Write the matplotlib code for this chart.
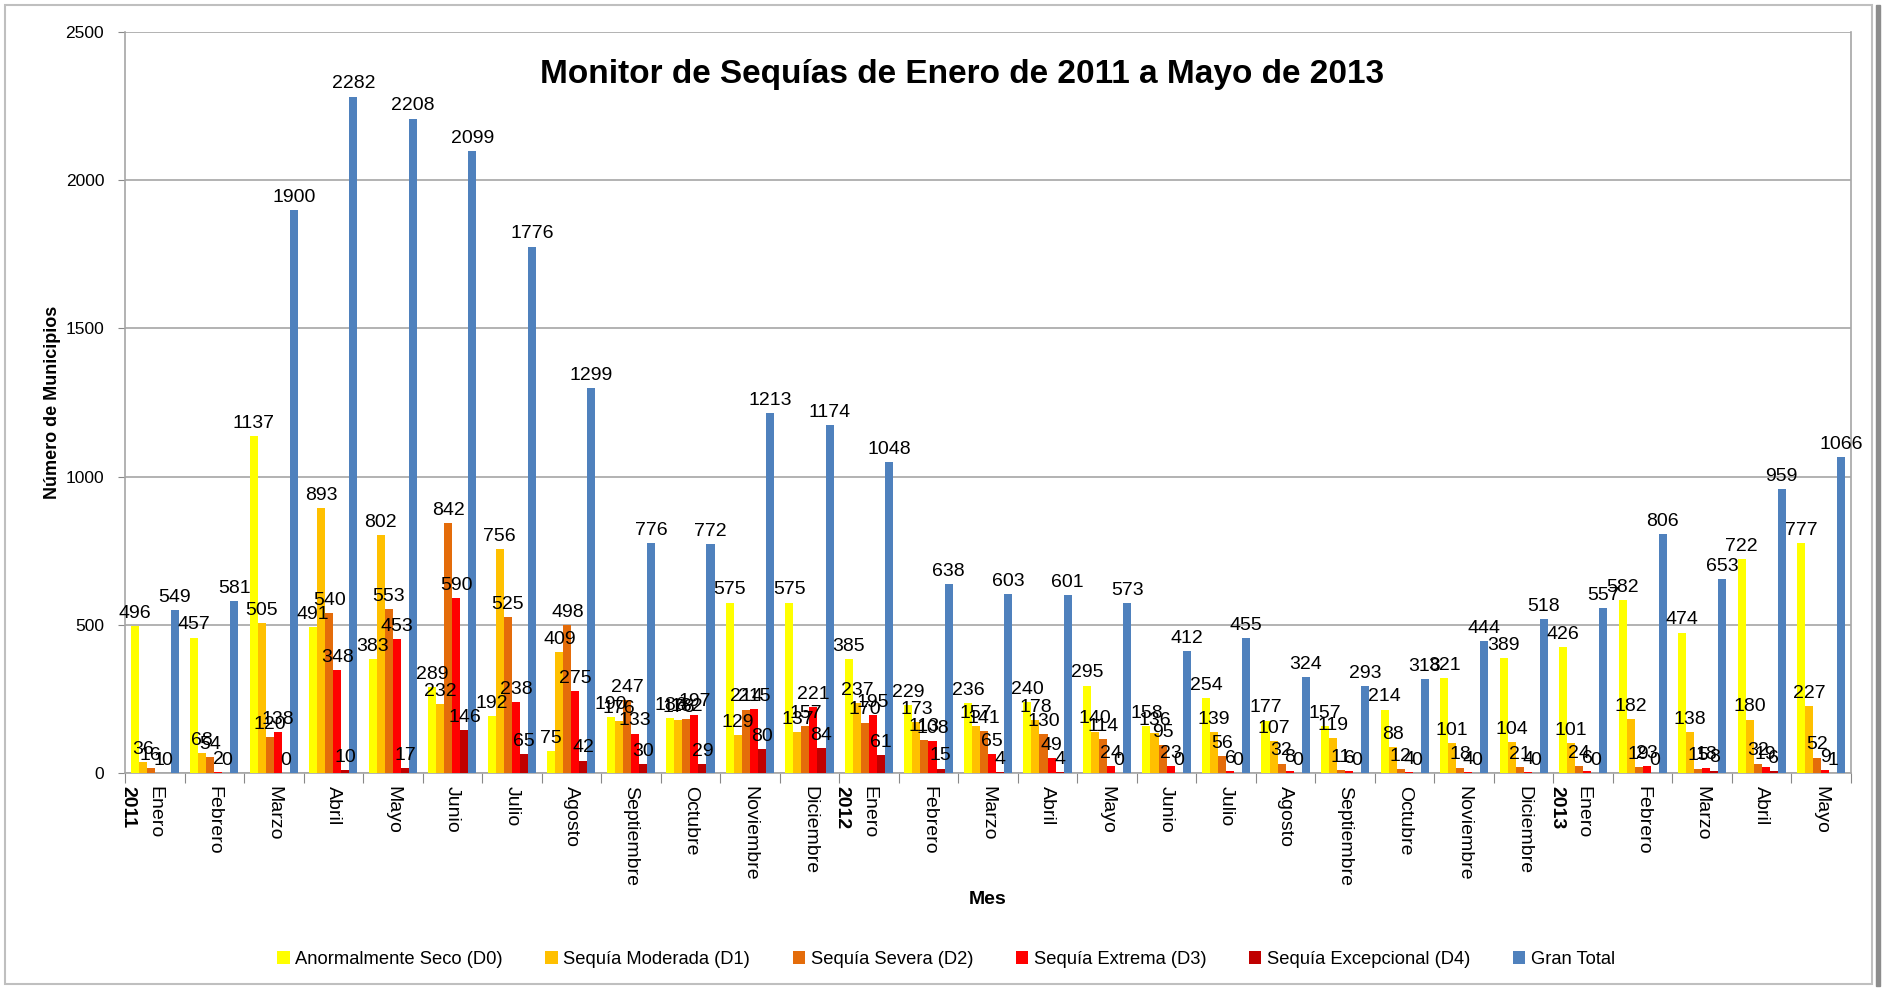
import matplotlib

matplotlib.use("Agg")
import matplotlib.pyplot as plt
import numpy as np
from matplotlib.patches import Rectangle

plt.rcParams["font.family"] = ["Liberation Sans Narrow", "Liberation Sans", "DejaVu Sans"]

# ---------------------------------------------------------------------------
# Data
# ---------------------------------------------------------------------------
MONTHS = [
    "Enero", "Febrero", "Marzo", "Abril", "Mayo", "Junio", "Julio", "Agosto",
    "Septiembre", "Octubre", "Noviembre", "Diciembre",
    "Enero", "Febrero", "Marzo", "Abril", "Mayo", "Junio", "Julio", "Agosto",
    "Septiembre", "Octubre", "Noviembre", "Diciembre",
    "Enero", "Febrero", "Marzo", "Abril", "Mayo",
]
YEAR_MARKS = {0: "2011", 12: "2012", 24: "2013"}

d0 = [496, 457, 1137, 491, 383, 289, 192, 75, 190, 186, 575, 575,
      385, 229, 236, 240, 295, 158, 254, 177, 157, 214, 321, 389,
      426, 582, 474, 722, 777]
d1 = [36, 68, 505, 893, 802, 232, 756, 409, 176, 178, 129, 137,
      237, 173, 157, 178, 140, 136, 139, 107, 119, 88, 101, 104,
      101, 182, 138, 180, 227]
d2 = [16, 54, 120, 540, 553, 842, 525, 498, 247, 182, 214, 157,
      170, 113, 141, 130, 114, 95, 56, 32, 11, 12, 18, 21,
      24, 19, 15, 32, 52]
d3 = [1, 2, 138, 348, 453, 590, 238, 275, 133, 197, 215, 221,
      195, 108, 65, 49, 24, 23, 6, 8, 6, 4, 4, 4,
      6, 23, 18, 19, 9]
d4 = [0, 0, 0, 10, 17, 146, 65, 42, 30, 29, 80, 84,
      61, 15, 4, 4, 0, 0, 0, 0, 0, 0, 0, 0,
      0, 0, 8, 6, 1]
total = [549, 581, 1900, 2282, 2208, 2099, 1776, 1299, 776, 772, 1213, 1174,
         1048, 638, 603, 601, 573, 412, 455, 324, 293, 318, 444, 518,
         557, 806, 653, 959, 1066]

SERIES = [
    ("Anormalmente Seco (D0)", d0, "#FFFF00"),
    ("Sequía Moderada (D1)", d1, "#FFC000"),
    ("Sequía Severa (D2)", d2, "#E46C0A"),
    ("Sequía Extrema (D3)", d3, "#FF0000"),
    ("Sequía Excepcional (D4)", d4, "#C00000"),
    ("Gran Total", total, "#4F81BD"),
]

W, H = 1885, 989
fig = plt.figure(figsize=(W / 100, H / 100), dpi=100)
ax = fig.add_axes([125 / W, 1 - 773 / H, (1851 - 125) / W, (773 - 32) / H])

x = np.arange(len(MONTHS))
bw = 0.135
for k, (name, vals, color) in enumerate(SERIES):
    bars = ax.bar(x + (k - 2.5) * bw, vals, width=bw, color=color, label=name,
                  zorder=3)
    ax.bar_label(bars, padding=3, fontsize=14, color="black", zorder=4)

ax.set_xlim(-0.5, len(MONTHS) - 0.5)
ax.set_ylim(0, 2500)
ax.set_yticks(np.arange(0, 2501, 500))
ax.tick_params(axis="y", labelsize=12.5, length=5, color="#888888", pad=10)
ax.yaxis.grid(True, color="#A6A6A6", linewidth=1.2, zorder=0)
ax.set_axisbelow(True)

# category boundaries as ticks, labels placed by hand
ax.set_xticks(np.arange(-0.5, len(MONTHS), 1.0))
ax.set_xticklabels([])
ax.tick_params(axis="x", length=7, color="#888888")
for i, m in enumerate(MONTHS):
    ax.text(i, -45, m, rotation=-90, ha="center", va="top", fontsize=14)
for i, yr in YEAR_MARKS.items():
    ax.text(i - 0.45, -45, yr, rotation=-90, ha="center", va="top",
            fontsize=14, fontweight="bold")

for side in ("left", "right", "bottom"):
    ax.spines[side].set_color("#A6A6A6")
    ax.spines[side].set_linewidth(1.2)
ax.spines["top"].set_visible(False)

ax.set_ylabel("Número de Municipios", fontsize=13, fontweight="bold")
ax.yaxis.set_label_coords(-0.037, 0.5)

fig.text(962 / W, 1 - 75 / H, "Monitor de Sequías de Enero de 2011 a Mayo de 2013",
         ha="center", va="center", fontsize=24, fontweight="bold")
fig.text(988 / W, 1 - 899 / H, "Mes", ha="center", va="center",
         fontsize=14, fontweight="bold")

fig.legend(loc="center", bbox_to_anchor=(946 / W, 1 - 959 / H), ncol=6,
           frameon=False, fontsize=13.2, handlelength=0.7, handleheight=0.7,
           handletextpad=0.3, columnspacing=2.3)

# outer chart frame
fig.patches.append(Rectangle((5 / W, 5 / H), (1872 - 5) / W, (984 - 5) / H,
                             transform=fig.transFigure, fill=False,
                             edgecolor="#BFBFBF", linewidth=1.5))
fig.patches.append(Rectangle((1876 / W, 3 / H), 4 / W, (984 - 3) / H,
                             transform=fig.transFigure, color="#8C8C8C"))

fig.savefig("out.png", dpi=100)
